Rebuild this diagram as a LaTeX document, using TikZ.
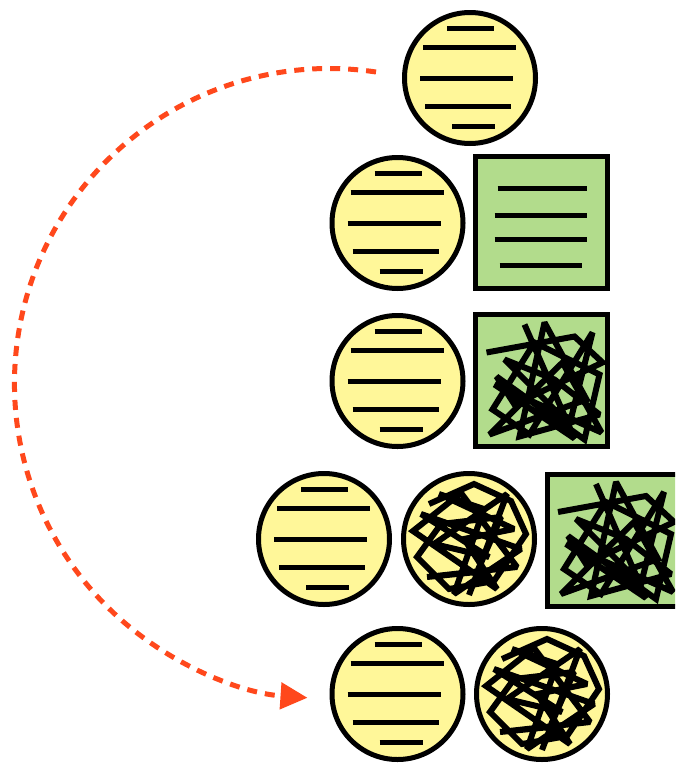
\documentclass[tikz,border=0pt]{standalone}
\usetikzlibrary{arrows.meta}
\definecolor{cyel}{RGB}{255,247,153}
\definecolor{cgrn}{RGB}{178,220,140}
\definecolor{corg}{RGB}{255,72,28}
\tikzset{
  ball/.style={circle, draw=black, line width=5pt, fill=cyel, minimum size=131pt, inner sep=0pt},
  box/.style={rectangle, draw=black, line width=5pt, fill=cgrn, minimum size=132pt, inner sep=0pt},
  stroke/.style={line width=5pt, black},
  scrib/.style={line width=6pt, black, line join=miter, miter limit=2},
  conn/.style={corg, line width=5pt, dash pattern=on 10pt off 8pt, -{Triangle[length=27pt,width=26pt]}},
}
\newcommand\linedball[2]{%
  \node[ball] (#1) at (#2) {};
  \foreach \a/\b/\y in {-23/24/-50, -47/46/-31, -50/43/0, -45/41/28, -18/25/48}
    \draw[stroke] ([shift={(\a,\y)}]#1.center) -- ([shift={(\b,\y)}]#1.center);
}
\newcommand\linedbox[2]{%
  \node[box] (#1) at (#2) {};
  \foreach \a/\b/\y in {-44/45/-34, -47/45/-7, -47/45/17, -42/40/43}
    \draw[stroke] ([shift={(\a,\y)}]#1.center) -- ([shift={(\b,\y)}]#1.center);
}
\newcommand\scribball[2]{%
  \node[ball] (#1) at (#2) {};
  \begin{scope}[shift={(#1.center)}]
    \draw[scrib] (-40,-35) -- (5,-55) -- (42,-38) -- (57,-5) -- (25,42) -- (-20,50) -- (-52,18)
      -- (-28,-15) -- (32,-22) -- (8,33) -- (-42,38) -- (48,28) -- (-8,-46) -- (-56,-8)
      -- (28,50) -- (-5,0) -- (45,-10) -- (-30,-45) -- (15,-30) -- (-15,55) -- (52,10)
      -- (-48,-25) -- (20,18) -- (-35,5) -- (38,-45) -- (0,56);
  \end{scope}
}
\newcommand\scribbox[2]{%
  \node[box] (#1) at (#2) {};
  \begin{scope}[shift={(#1.center)}]
    \draw[scrib] (-55,-28) -- (33,-44) -- (61,-18) -- (-27,24) -- (-45,-4) -- (43,59) -- (58,-6)
      -- (-7,-38) -- (-49,29) -- (-12,54) -- (51,-48) -- (28,44) -- (-37,-21) -- (13,-1)
      -- (58,34) -- (-22,56) -- (3,-58) -- (45,19) -- (-52,54) -- (21,-18) -- (60,52)
      -- (-47,4) -- (33,58) -- (-17,-56);
  \end{scope}
}
\begin{document}
\begin{tikzpicture}[x=1pt,y=-1pt]
  \useasboundingbox (0,0) rectangle (675,763);
  \clip (0,0) rectangle (675,763);
  % row 1
  \linedball{c1}{470,78}
  % row 2
  \linedball{c2}{397.5,223}
  \linedbox{s2}{541.5,222.5}
  % row 3
  \linedball{c3}{397.5,381}
  \scribbox{s3}{541.5,380.5}
  % row 4
  \linedball{c4}{324,539}
  \scribball{k4}{469,539}
  \scribbox{s4}{613,540}
  % row 5
  \linedball{c5}{397.5,694}
  \scribball{k5}{542,694}
  % connector
  \draw[conn] (c1.west) ++(-26,-6) arc[start angle=81.5, end angle=266, radius=315pt];
\end{tikzpicture}
\end{document}
